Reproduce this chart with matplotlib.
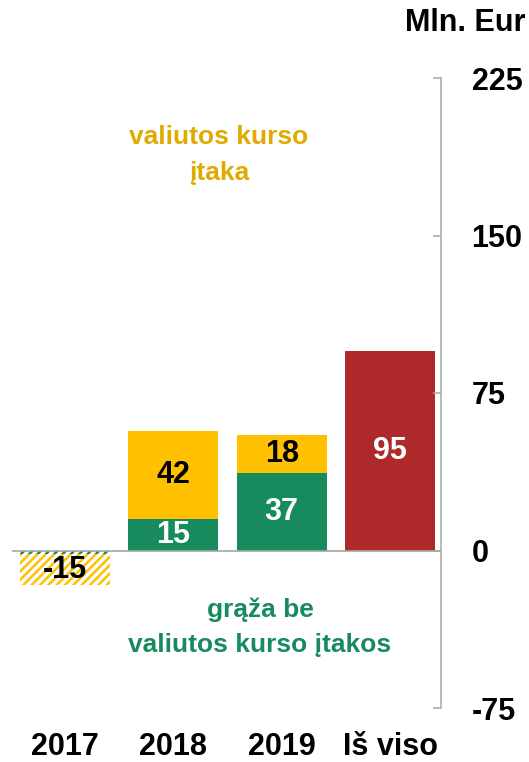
import matplotlib
matplotlib.use("Agg")
import matplotlib.pyplot as plt

plt.rcParams['font.family'] = ['Liberation Sans', 'DejaVu Sans']
plt.rcParams['font.weight'] = 'bold'
plt.rcParams['hatch.linewidth'] = 1.8

categories = ["2017", "2018", "2019", "Iš viso"]
green_vals = [-1.5, 15, 37, 0]      # grąža be valiutos kurso įtakos
yellow_vals = [-15, 42, 18, 0]      # valiutos kurso įtaka
total_vals = [0, 0, 0, 95]          # Iš viso
hatched = [True, False, False, False]
label_2017 = "-15"
yticks = [-75, 0, 75, 150, 225]

YELLOW = "#FFC000"
GREEN = "#178A5E"
RED = "#AE2A2A"
YELLOW_TXT = "#E0AA00"
GRAY = "#A6A6A6"

fig = plt.figure(figsize=(5.29, 7.62), dpi=100)
ax = fig.add_axes([12/529, 1 - 708/762, 429/529, 630/762])

x = list(range(len(categories)))
w = 0.83

for i in x:
    g = green_vals[i]
    yv = yellow_vals[i]
    t = total_vals[i]
    if hatched[i]:
        ax.bar(i, g, width=w, color="white", edgecolor=GREEN, hatch="////", linewidth=0)
        ax.bar(i, yv, bottom=g, width=w, color="white", edgecolor=YELLOW, hatch="////", linewidth=0)
        ax.text(i, (g + yv) / 2 - 1, label_2017, ha="center", va="center",
                fontsize=22, fontweight="bold", color="black")
    elif t:
        ax.bar(i, t, width=w, color=RED, linewidth=0)
        ax.text(i, t / 2, f"{t:g}", ha="center", va="center",
                fontsize=22, fontweight="bold", color="white")
    else:
        ax.bar(i, g, width=w, color=GREEN, linewidth=0)
        ax.bar(i, yv, bottom=g, width=w, color=YELLOW, linewidth=0)
        ax.text(i, g / 2, f"{g:g}", ha="center", va="center",
                fontsize=22, fontweight="bold", color="white")
        ax.text(i, g + yv / 2, f"{yv:g}", ha="center", va="center",
                fontsize=22, fontweight="bold", color="black")

ax.axhline(0, color=GRAY, linewidth=1.2, zorder=3)

ax.set_xlim(-0.49, 3.47)
ax.set_ylim(-75, 225)

for s in ["left", "top", "bottom"]:
    ax.spines[s].set_visible(False)
ax.spines["right"].set_color(GRAY)
ax.spines["right"].set_linewidth(1.1)

ax.yaxis.tick_right()
ax.set_yticks(yticks)
ax.set_yticklabels([str(v) for v in yticks])
ax.tick_params(axis="y", direction="in", length=6, width=1.1, color=GRAY,
               pad=22, labelsize=22, left=False, right=True)
for lbl in ax.get_yticklabels():
    lbl.set_fontweight("bold")

ax.set_xticks(x)
ax.set_xticklabels(categories)
ax.tick_params(axis="x", length=0, pad=17, labelsize=22)
for lbl in ax.get_xticklabels():
    lbl.set_fontweight("bold")

fig.text(525/529, 1 - 23/762, "Mln. Eur", ha="right", va="center",
         fontsize=22, fontweight="bold", color="black")

fig.text(219/529, 1 - 155/762, "valiutos kurso\nįtaka", ha="center", va="center",
         fontsize=19, fontweight="bold", color=YELLOW_TXT, linespacing=1.6)
fig.text(260/529, 1 - 627/762, "grąža be\nvaliutos kurso įtakos", ha="center", va="center",
         fontsize=19, fontweight="bold", color=GREEN, linespacing=1.6)

fig.savefig("out.png", dpi=100)
